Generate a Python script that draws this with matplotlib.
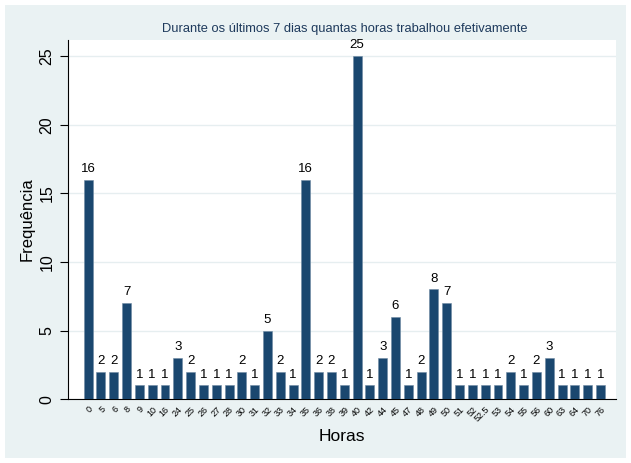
import numpy as np
import matplotlib.pyplot as plt
from matplotlib.patches import Rectangle

plt.rcParams['font.family'] = ['Liberation Sans', 'DejaVu Sans']

horas = ['0', '5', '6', '8', '9', '10', '16', '24', '25', '26', '27', '28',
         '30', '31', '32', '33', '34', '35', '36', '38', '39', '40', '42', '44',
         '45', '47', '48', '49', '50', '51', '52', '52.5', '53', '54', '55', '56',
         '60', '63', '64', '70', '76']
freq = [16, 2, 2, 7, 1, 1, 1, 3, 2, 1, 1, 1,
        2, 1, 5, 2, 1, 16, 2, 2, 1, 25, 1, 3,
        6, 1, 2, 8, 7, 1, 1, 1, 1, 2, 1, 2,
        3, 1, 1, 1, 1]

bg = '#eaf2f3'
bar_color = '#1a476f'

fig = plt.figure(figsize=(6.31, 4.63), dpi=100, facecolor='white')
fig.patches.append(Rectangle((5 / 631, 5 / 463), 621 / 631, 453 / 463,
                             transform=fig.transFigure, facecolor=bg,
                             edgecolor='none', zorder=-10))
ax = fig.add_axes([0.108, 0.138, 0.868, 0.776])
ax.set_facecolor('white')

x = np.arange(len(horas))
ax.bar(x, freq, width=0.7, color=bar_color, edgecolor='#6f8aa3', linewidth=0.4, zorder=3)
for xi, v in zip(x, freq):
    ax.text(xi, v + 0.35, str(v), ha='center', va='bottom', fontsize=9.5, color='black')

ax.set_xlim(-1.56, 41.2)
ax.set_ylim(0, 26.2)
ax.set_yticks([0, 5, 10, 15, 20, 25])
ax.yaxis.grid(True, color='#e6eef0', linewidth=1, zorder=0)
ax.set_xticks(x)
ax.set_xticklabels(horas, rotation=45, ha='right', rotation_mode='anchor', fontsize=6.5)
ax.tick_params(axis='x', length=0, pad=4)
plt.setp(ax.get_yticklabels(), rotation=90, va='center', fontsize=11.5)
ax.tick_params(axis='y', length=6, width=0.8, pad=4)

for s in ['top', 'right']:
    ax.spines[s].set_visible(False)
ax.spines['left'].set_linewidth(0.8)
ax.spines['bottom'].set_linewidth(0.8)

ax.set_ylabel('Frequência', fontsize=12, labelpad=3)
ax.set_xlabel('Horas', fontsize=12.5, labelpad=4)
fig.text(0.547, 0.938, 'Durante os últimos 7 dias quantas horas trabalhou efetivamente',
         ha='center', va='center', fontsize=9.3, color='#1e3a5c')

fig.savefig('out.png', dpi=100, facecolor='white')
